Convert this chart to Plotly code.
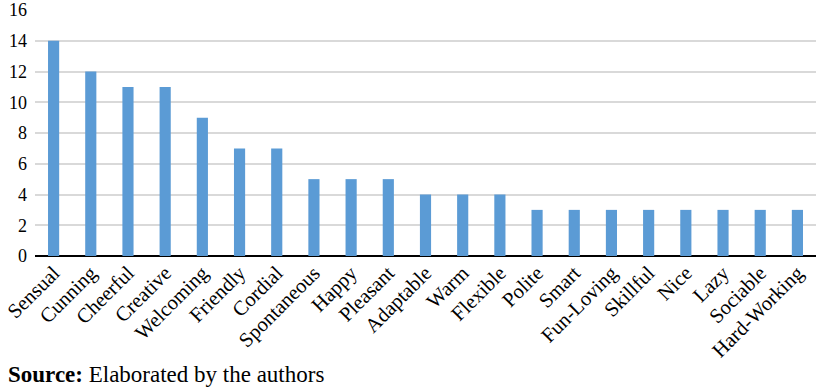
import plotly.graph_objects as go

categories = ["Sensual", "Cunning", "Cheerful", "Creative", "Welcoming", "Friendly", "Cordial",
              "Spontaneous", "Happy", "Pleasant", "Adaptable", "Warm", "Flexible", "Polite",
              "Smart", "Fun-Loving", "Skillful", "Nice", "Lazy", "Sociable", "Hard-Working"]
values = [14, 12, 11, 11, 9, 7, 7, 5, 5, 5, 4, 4, 4, 3, 3, 3, 3, 3, 3, 3, 3]
y_ticks = [0, 2, 4, 6, 8, 10, 12, 14, 16]

FONT = "Liberation Serif, Times New Roman, serif"

W, H = 816, 391
L, R, T, B = 35, 0, 10, 135

fig = go.Figure(go.Bar(x=categories, y=values, marker=dict(color="#5B9BD5", line=dict(width=0)),
                       width=0.3))

fig.update_layout(
    width=W, height=H,
    margin=dict(l=L, r=R, t=T, b=B),
    paper_bgcolor="white", plot_bgcolor="white",
    font=dict(family=FONT, size=18, color="black"),
    showlegend=False,
    xaxis=dict(tickangle=-45, showgrid=False, showline=False, ticks="",
               tickfont=dict(family=FONT, size=20.5), automargin=False),
    yaxis=dict(range=[0, 16], tickvals=y_ticks, showgrid=True, gridcolor="#D9D9D9", gridwidth=1.5,
               zeroline=True, zerolinecolor="black", zerolinewidth=2, ticks="", showline=False,
               ticklabelstandoff=7,
               tickfont=dict(family=FONT, size=18), automargin=False),
    annotations=[dict(text="<b>Source:</b> Elaborated by the authors", xref="paper", yref="paper",
                      x=-(L - 6) / (W - L - R), y=0, xanchor="left", yanchor="bottom", yshift=-B + 2,
                      showarrow=False,
                      font=dict(family=FONT, size=23, color="black"))],
)

fig.write_html("out.html", config={"displayModeBar": False},
               post_script="document.body.style.margin='0';document.body.style.overflow='hidden';")
